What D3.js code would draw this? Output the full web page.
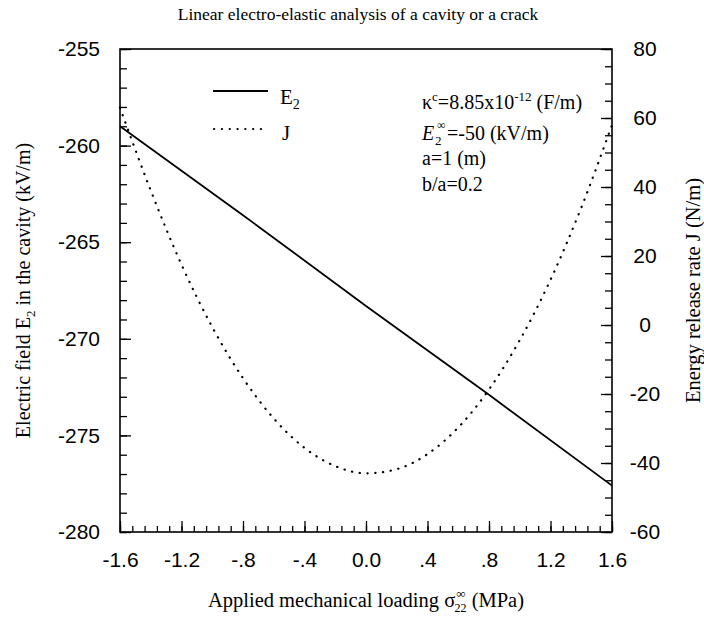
<!DOCTYPE html>
<html>
<head>
<meta charset="utf-8">
<script src="https://cdn.jsdelivr.net/npm/d3@7"></script>
<style>
  body { margin: 0; background: #fff; }
  text { fill: #000; }
</style>
</head>
<body>
<svg id="chart" width="704" height="620"></svg>
<script>
// Applied mechanical loading (MPa) for the J curve
const sigma = [-1.6, -1.4, -1.2, -1.0, -0.8, -0.6, -0.4, -0.2, 0.0, 0.2, 0.4, 0.6, 0.8, 1.0, 1.2, 1.4, 1.6];
// Energy release rate J (N/m)
const releaseJ = [63.0, 39.0, 17.5, -0.6, -15.4, -27.1, -35.6, -40.9, -43.0, -41.8, -37.4, -29.7, -18.7, -4.4, 13.1, 34.0, 58.0];
// Applied loading (MPa) for the E2 line
const sigmaE = [-1.6, -0.8, 0.0, 0.8, 1.6];
// Electric field E2 in the cavity (kV/m)
const fieldE2 = [-259.0, -263.6, -268.3, -272.9, -277.6];

const xTickValues = [-1.6, -1.2, -0.8, -0.4, 0.0, 0.4, 0.8, 1.2, 1.6];
const xTickLabels = ["-1.6", "-1.2", "-.8", "-.4", "0.0", ".4", ".8", "1.2", "1.6"];
const leftTickValues = [-255, -260, -265, -270, -275, -280];
const rightTickValues = [80, 60, 40, 20, 0, -20, -40, -60];

const SERIF = "'Liberation Serif', 'Times New Roman', serif";
const SANS = "'Liberation Sans', Arial, sans-serif";

const svg = d3.select("#chart");
const box = { left: 120, right: 612, top: 49, bottom: 532 };

const x = d3.scaleLinear().domain([-1.6, 1.6]).range([box.left, box.right]);
const yL = d3.scaleLinear().domain([-280, -255]).range([box.bottom, box.top]);
const yR = d3.scaleLinear().domain([-60, 80]).range([box.bottom, box.top]);

// minor tick positions
const xMinor = d3.range(0, 41).map(i => -1.6 + i * 0.08);
const yLMinor = d3.range(-280, -254, 1);
const yRMinor = d3.range(-60, 81, 5);

function styleAxis(g) {
  g.select(".domain").remove();
  g.selectAll(".tick line").attr("stroke", "#000").attr("stroke-width", 1.3);
  g.selectAll(".tick text").attr("font-family", SANS).attr("font-size", 21).attr("fill", "#000");
}

// bottom axis
svg.append("g").attr("transform", `translate(0,${box.bottom})`)
  .call(d3.axisBottom(x).tickValues(xMinor).tickSize(-6).tickFormat(""))
  .call(styleAxis);
svg.append("g").attr("transform", `translate(0,${box.bottom})`)
  .call(d3.axisBottom(x).tickValues(xTickValues).tickSize(-11).tickPadding(20)
    .tickFormat((d, i) => xTickLabels[i]))
  .call(styleAxis);

// left axis
svg.append("g").attr("transform", `translate(${box.left},0)`)
  .call(d3.axisLeft(yL).tickValues(yLMinor).tickSize(-7).tickFormat(""))
  .call(styleAxis);
svg.append("g").attr("transform", `translate(${box.left},0)`)
  .call(d3.axisLeft(yL).tickValues(leftTickValues).tickSize(-11).tickPadding(20)
    .tickFormat(d => String(d)))
  .call(styleAxis);

// right axis
svg.append("g").attr("transform", `translate(${box.right},0)`)
  .call(d3.axisRight(yR).tickValues(yRMinor).tickSize(-7).tickFormat(""))
  .call(styleAxis);
const rightAxis = svg.append("g").attr("transform", `translate(${box.right},0)`)
  .call(d3.axisRight(yR).tickValues(rightTickValues).tickSize(-11).tickPadding(20)
    .tickFormat(d => String(d)))
  .call(styleAxis);
rightAxis.selectAll(".tick text").attr("text-anchor", "middle").attr("x", 33);

// frame
svg.append("rect")
  .attr("x", box.left).attr("y", box.top)
  .attr("width", box.right - box.left).attr("height", box.bottom - box.top)
  .attr("fill", "none").attr("stroke", "#000").attr("stroke-width", 1.6);

// curves
const lineE = d3.line().x((d, i) => x(sigmaE[i])).y(d => yL(d));
const lineJ = d3.line().x((d, i) => x(sigma[i])).y(d => yR(d)).curve(d3.curveMonotoneX);

svg.append("path").datum(releaseJ)
  .attr("d", lineJ).attr("fill", "none").attr("stroke", "#000")
  .attr("stroke-width", 2.2).attr("stroke-linecap", "round").attr("stroke-dasharray", "0.3,7.5");

svg.append("path").datum(fieldE2)
  .attr("d", lineE).attr("fill", "none").attr("stroke", "#000")
  .attr("stroke-width", 1.8);

// legend
svg.append("line").attr("x1", 213).attr("x2", 268).attr("y1", 91).attr("y2", 91)
  .attr("stroke", "#000").attr("stroke-width", 2);
svg.append("line").attr("x1", 214).attr("x2", 268).attr("y1", 129).attr("y2", 129)
  .attr("stroke", "#000").attr("stroke-width", 2).attr("stroke-linecap", "round")
  .attr("stroke-dasharray", "0.3,7.5");

const legE = svg.append("text").attr("x", 280).attr("y", 104)
  .attr("font-family", SERIF).attr("font-size", 21);
legE.append("tspan").text("E");
legE.append("tspan").attr("font-size", 14).attr("dy", 5).text("2");

svg.append("text").attr("x", 282).attr("y", 140)
  .attr("font-family", SERIF).attr("font-size", 21).text("J");

// parameter notes
const n1 = svg.append("text").attr("x", 422).attr("y", 109)
  .attr("font-family", SERIF).attr("font-size", 20);
n1.append("tspan").text("κ");
n1.append("tspan").attr("font-size", 13).attr("dy", -8).text("c");
n1.append("tspan").attr("dy", 8).text("=8.85x10");
n1.append("tspan").attr("font-size", 13).attr("dy", -8).text("-12");
n1.append("tspan").attr("dy", 8).text(" (F/m)");

// E2 far-field symbol: italic E with stacked ∞ and subscript 2
svg.append("text").attr("x", 422).attr("y", 140)
  .attr("font-family", SERIF).attr("font-size", 20).attr("font-style", "italic").text("E");
svg.append("text").attr("x", 435).attr("y", 145)
  .attr("font-family", SERIF).attr("font-size", 13).text("2");
svg.append("text").attr("x", 437).attr("y", 129)
  .attr("font-family", SERIF).attr("font-size", 12).text("∞");
svg.append("text").attr("x", 447).attr("y", 140)
  .attr("font-family", SERIF).attr("font-size", 20).text("=-50 (kV/m)");

svg.append("text").attr("x", 422).attr("y", 165)
  .attr("font-family", SERIF).attr("font-size", 20).text("a=1 (m)");
svg.append("text").attr("x", 422).attr("y", 191)
  .attr("font-family", SERIF).attr("font-size", 20).text("b/a=0.2");

// title
svg.append("text").attr("x", 358).attr("y", 20).attr("text-anchor", "middle")
  .attr("font-family", SERIF).attr("font-size", 17.5)
  .text("Linear electro-elastic analysis of a cavity or a crack");

// x axis title
const xt = svg.append("text").attr("x", 366).attr("y", 607).attr("text-anchor", "middle")
  .attr("font-family", SERIF).attr("font-size", 20.5);
xt.append("tspan").text("Applied mechanical loading σ");
xt.append("tspan").attr("font-size", 13).attr("dx", 1).attr("dy", -9).text("∞");
xt.append("tspan").attr("font-size", 12).attr("dx", -11).attr("dy", 14).text("22");
xt.append("tspan").attr("dy", -5).text(" (MPa)");

// left y title
const ylt = svg.append("text")
  .attr("transform", `translate(30,${(box.top + box.bottom) / 2}) rotate(-90)`)
  .attr("text-anchor", "middle").attr("font-family", SERIF).attr("font-size", 20);
ylt.append("tspan").text("Electric field E");
ylt.append("tspan").attr("font-size", 13).attr("dy", 5).text("2");
ylt.append("tspan").attr("dy", -5).text(" in the cavity (kV/m)");

// right y title
svg.append("text")
  .attr("transform", `translate(700,${(box.top + box.bottom) / 2}) rotate(-90)`)
  .attr("text-anchor", "middle").attr("font-family", SERIF).attr("font-size", 20.5)
  .text("Energy release rate J (N/m)");
</script>
</body>
</html>
